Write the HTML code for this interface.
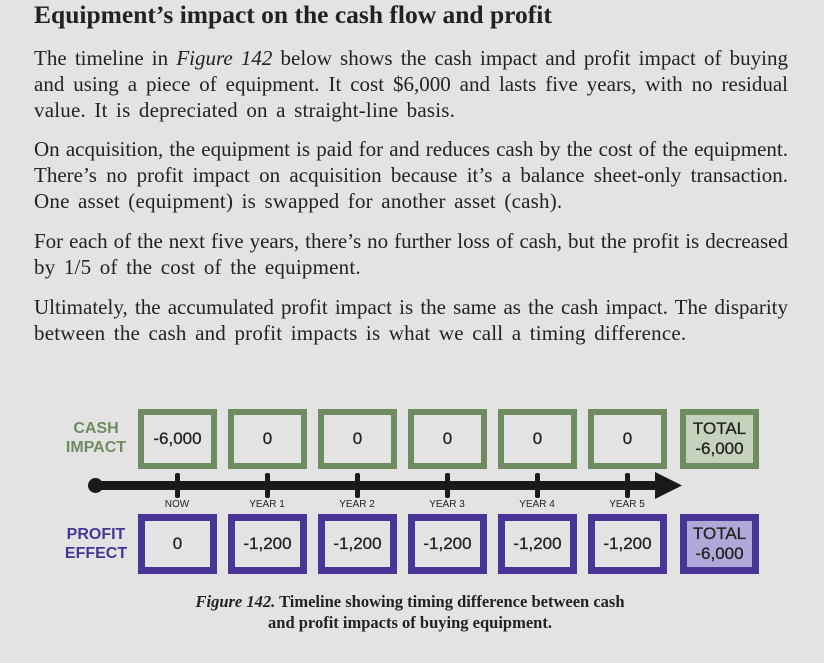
<!DOCTYPE html>
<html><head><meta charset="utf-8"><style>
body{margin:0;width:824px;height:663px;background:#e3e3e3;position:relative;overflow:hidden;font-family:"Liberation Serif",serif;color:#222}
.t{position:absolute;left:34px;width:754px;height:26px;line-height:26px;font-size:21px;white-space:nowrap}
.u{word-spacing:3px;letter-spacing:0.2px}
.j{text-align:justify;text-align-last:justify}
.b{position:absolute;box-sizing:border-box;width:79px;height:60px;display:flex;align-items:center;justify-content:center;font-family:"Liberation Sans",sans-serif;font-size:17px;color:#222;text-align:center;line-height:20px;-webkit-text-stroke:0.3px #222}
.g{border:6px solid #6e8c60;top:409px}
.p{border:7px solid #4a3597;top:514px}
.tick{position:absolute;top:473px;width:5px;height:25px;background:#1a1a1a;border-radius:2px}
.yl{position:absolute;top:499px;width:80px;text-align:center;font-family:"Liberation Sans",sans-serif;font-size:10px;color:#222}
.lab{position:absolute;left:50px;width:92px;text-align:center;font-family:"Liberation Sans",sans-serif;font-weight:bold;font-size:16px;line-height:19px}
</style></head><body>
<div style="position:absolute;left:34px;top:0;font-size:25.5px;font-weight:bold;line-height:30px;white-space:nowrap">Equipment’s impact on the cash flow and profit</div>
<div class="t j" style="top:45px">The timeline in <i>Figure 142</i> below shows the cash impact and profit impact of buying</div>
<div class="t j" style="top:71px">and using a piece of equipment. It cost $6,000 and lasts five years, with no residual</div>
<div class="t u" style="top:97px">value. It is depreciated on a straight-line basis.</div>
<div class="t j" style="top:136px">On acquisition, the equipment is paid for and reduces cash by the cost of the equipment.</div>
<div class="t j" style="top:162px">There’s no profit impact on acquisition because it’s a balance sheet-only transaction.</div>
<div class="t u" style="top:188px">One asset (equipment) is swapped for another asset (cash).</div>
<div class="t j" style="top:228px">For each of the next five years, there’s no further loss of cash, but the profit is decreased</div>
<div class="t u" style="top:254px">by 1/5 of the cost of the equipment.</div>
<div class="t j" style="top:294px">Ultimately, the accumulated profit impact is the same as the cash impact. The disparity</div>
<div class="t u" style="top:320px">between the cash and profit impacts is what we call a timing difference.</div>

<div class="lab" style="top:419px;color:#6e8c60">CASH<br>IMPACT</div>
<div class="lab" style="top:525px;color:#4a3597">PROFIT<br>EFFECT</div>

<div class="b g" style="left:138px">-6,000</div>
<div class="b g" style="left:228px">0</div>
<div class="b g" style="left:318px">0</div>
<div class="b g" style="left:408px">0</div>
<div class="b g" style="left:498px">0</div>
<div class="b g" style="left:588px">0</div>
<div class="b g" style="left:680px;background:#c6d2bc">TOTAL<br>-6,000</div>

<div class="b p" style="left:138px">0</div>
<div class="b p" style="left:228px">-1,200</div>
<div class="b p" style="left:318px">-1,200</div>
<div class="b p" style="left:408px">-1,200</div>
<div class="b p" style="left:498px">-1,200</div>
<div class="b p" style="left:588px">-1,200</div>
<div class="b p" style="left:680px;background:#b2a7d9">TOTAL<br>-6,000</div>

<div style="position:absolute;left:96px;top:481px;width:570px;height:9px;background:#1a1a1a"></div>
<div style="position:absolute;left:88px;top:478px;width:15px;height:15px;border-radius:50%;background:#1a1a1a"></div>
<svg style="position:absolute;left:655px;top:472px" width="30" height="28"><polygon points="0,0 27,13.5 0,27" fill="#1a1a1a"/></svg>
<div class="tick" style="left:175px"></div>
<div class="tick" style="left:265px"></div>
<div class="tick" style="left:355px"></div>
<div class="tick" style="left:445px"></div>
<div class="tick" style="left:535px"></div>
<div class="tick" style="left:625px"></div>
<div class="yl" style="left:137px">NOW</div>
<div class="yl" style="left:227px">YEAR 1</div>
<div class="yl" style="left:317px">YEAR 2</div>
<div class="yl" style="left:407px">YEAR 3</div>
<div class="yl" style="left:497px">YEAR 4</div>
<div class="yl" style="left:587px">YEAR 5</div>

<div style="position:absolute;left:0;width:820px;top:591px;text-align:center;font-size:16.5px;font-weight:bold;line-height:21px"><i>Figure 142.</i> Timeline showing timing difference between cash<br>and profit impacts of buying equipment.</div>
</body></html>
